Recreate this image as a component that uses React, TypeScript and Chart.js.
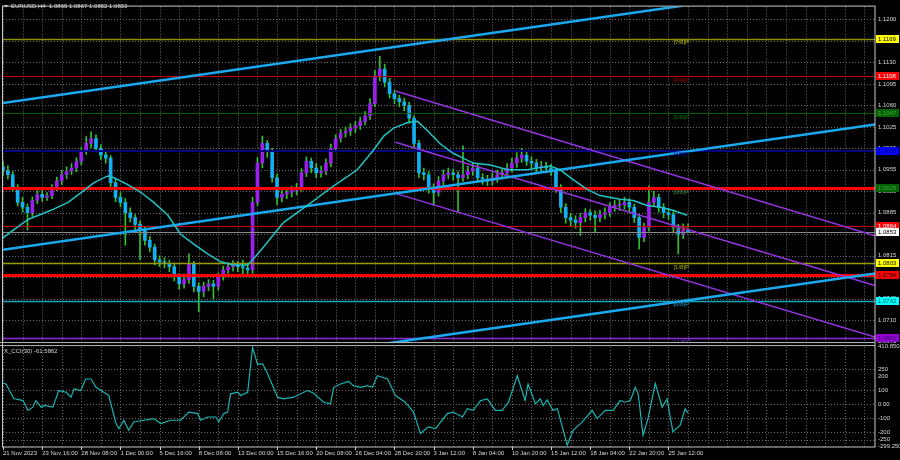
import React, { useEffect, useRef } from "react";
import { Chart, registerables } from "chart.js";

Chart.register(...registerables);

const FONT = '"Liberation Sans", Arial, sans-serif';

const symbolTitle = "EURUSD,H4  1.0865 1.0867 1.0852 1.0853";
const cciTitle = "X_CCI(30) -61.5862";

const dateLabels = [
  "21 Nov 2023", "23 Nov 16:00", "28 Nov 08:00", "1 Dec 00:00", "5 Dec 16:00", "8 Dec 08:00",
  "13 Dec 00:00", "15 Dec 16:00", "20 Dec 08:00", "26 Dec 04:00", "28 Dec 20:00", "3 Jan 12:00",
  "8 Jan 04:00", "10 Jan 20:00", "15 Jan 12:00", "18 Jan 04:00", "22 Jan 20:00", "25 Jan 12:00",
];
const candlesPerLabel = 8;
const candlesPerGridLine = 4;

const priceTicks = [1.12, 1.1165, 1.113, 1.1095, 1.106, 1.1025, 1.099, 1.0955, 1.092, 1.0885, 1.085, 1.0815, 1.078, 1.0745, 1.071, 1.0675];
const cciTicks = [410.8501, 250, 200, 100, 0, -100, -200, -250, -299.2508];
const cciLevels = [250, 100, 0, -100, -200, -250];

const firstOpen = 1.096;
const closes = [
  1.0953, 1.0947, 1.0926, 1.0902, 1.0894, 1.0885, 1.0905, 1.0915, 1.0910, 1.0913,
  1.0926, 1.0937, 1.0947, 1.0953, 1.0958, 1.0969, 1.0985, 1.0998, 1.1006, 1.0990,
  1.0979, 1.0974, 1.0934, 1.0910, 1.0902, 1.0885, 1.0877, 1.0866, 1.0857, 1.0840,
  1.0829, 1.0808, 1.0805, 1.0802, 1.0797, 1.0781, 1.0769, 1.0776, 1.0802, 1.0765,
  1.0757, 1.0765, 1.0769, 1.0765, 1.0781, 1.0792, 1.0797, 1.0800, 1.0797, 1.0795,
  1.0792, 1.0902, 1.0966, 1.0998, 1.0985, 1.0942, 1.0910, 1.0915, 1.0918, 1.0921,
  1.0926, 1.0950, 1.0969, 1.0958, 1.0950, 1.0953, 1.0966, 1.0990, 1.1006, 1.1015,
  1.1018, 1.1023, 1.1027, 1.1034, 1.1043, 1.1063, 1.1108, 1.1119, 1.1098, 1.1079,
  1.1071, 1.1066, 1.1060, 1.1039, 1.0998, 1.0950, 1.0947, 1.0926, 1.0918, 1.0937,
  1.0947, 1.0950, 1.0947, 1.0942, 1.0947, 1.0953, 1.0958, 1.0942, 1.0940, 1.0937,
  1.0942, 1.0947, 1.0950, 1.0958, 1.0966, 1.0974, 1.0979, 1.0969, 1.0966, 1.0958,
  1.0961, 1.0958, 1.0953, 1.0926, 1.0894, 1.0877, 1.0873, 1.0869, 1.0877, 1.0885,
  1.0881, 1.0877, 1.0882, 1.0885, 1.0894, 1.0897, 1.0898, 1.0902, 1.0894, 1.0877,
  1.0845, 1.0861, 1.0902, 1.0910, 1.0894, 1.0885, 1.0882, 1.0861, 1.0850, 1.0857,
  1.0853,
];
const highs = [
  1.0968, 1.0962, 1.0952, 1.0931, 1.0910, 1.0899, 1.0911, 1.0921, 1.0922, 1.0918,
  1.0931, 1.0943, 1.0954, 1.0960, 1.0965, 1.0975, 1.0992, 1.1009, 1.1017, 1.1012,
  1.0996, 1.0986, 1.0978, 1.0940, 1.0918, 1.0908, 1.0893, 1.0882, 1.0872, 1.0862,
  1.0846, 1.0834, 1.0815, 1.0812, 1.0808, 1.0803, 1.0786, 1.0785, 1.0818, 1.0806,
  1.0771, 1.0772, 1.0776, 1.0775, 1.0787, 1.0798, 1.0804, 1.0807, 1.0806, 1.0808,
  1.0803, 1.0910, 1.0975, 1.1010, 1.1003, 1.0990, 1.0948, 1.0922, 1.0925, 1.0928,
  1.0933, 1.0957, 1.0976, 1.0974, 1.0965, 1.0961, 1.0973, 1.0997, 1.1012, 1.1021,
  1.1025, 1.1030, 1.1034, 1.1041, 1.1050, 1.1071, 1.1117, 1.1140, 1.1127, 1.1104,
  1.1085, 1.1077, 1.1072, 1.1065, 1.1043, 1.1003, 1.0958, 1.0952, 1.0932, 1.0944,
  1.0955, 1.0958, 1.0956, 1.0952, 1.0994, 1.0961, 1.0966, 1.0964, 1.0949, 1.0946,
  1.0950, 1.0954, 1.0958, 1.0965, 1.0974, 1.0983, 1.0990, 1.0985, 1.0976, 1.0972,
  1.0969, 1.0967, 1.0964, 1.0958, 1.0931, 1.0900, 1.0884, 1.0880, 1.0884, 1.0892,
  1.0890, 1.0888, 1.0889, 1.0893, 1.0901, 1.0905, 1.0906, 1.0910, 1.0908, 1.0899,
  1.0882, 1.0868, 1.0929, 1.0920, 1.0915, 1.0900, 1.0892, 1.0887, 1.0866, 1.0867,
  1.0867,
];
const lows = [
  1.0946, 1.0940, 1.0920, 1.0896, 1.0886, 1.0857, 1.0879, 1.0900, 1.0904, 1.0905,
  1.0908, 1.0921, 1.0931, 1.0940, 1.0947, 1.0952, 1.0963, 1.0980, 1.0991, 1.0984,
  1.0972, 1.0966, 1.0928, 1.0903, 1.0895, 1.0832, 1.0870, 1.0858, 1.0808, 1.0832,
  1.0821, 1.0800, 1.0797, 1.0795, 1.0789, 1.0774, 1.0760, 1.0762, 1.0770, 1.0756,
  1.0724, 1.0748, 1.0758, 1.0744, 1.0759, 1.0775, 1.0786, 1.0790, 1.0789, 1.0782,
  1.0781, 1.0786, 1.0896, 1.0958, 1.0975, 1.0935, 1.0898, 1.0903, 1.0908, 1.0911,
  1.0914, 1.0920, 1.0944, 1.0950, 1.0942, 1.0943, 1.0947, 1.0960, 1.0984, 1.1000,
  1.1008, 1.1011, 1.1016, 1.1021, 1.1028, 1.1037, 1.1058, 1.1100, 1.1090, 1.1072,
  1.1063, 1.1058, 1.1051, 1.1031, 1.0990, 1.0942, 1.0938, 1.0917, 1.0897, 1.0912,
  1.0930, 1.0940, 1.0938, 1.0885, 1.0936, 1.0940, 1.0946, 1.0934, 1.0931, 1.0929,
  1.0930, 1.0935, 1.0940, 1.0943, 1.0951, 1.0959, 1.0967, 1.0962, 1.0958, 1.0950,
  1.0951, 1.0950, 1.0946, 1.0918, 1.0885, 1.0868, 1.0864, 1.0860, 1.0848, 1.0870,
  1.0873, 1.0853, 1.0870, 1.0875, 1.0879, 1.0887, 1.0889, 1.0891, 1.0886, 1.0869,
  1.0826, 1.0838, 1.0855, 1.0895, 1.0886, 1.0877, 1.0874, 1.0852, 1.0818, 1.0843,
  1.0852,
];

const maIndex = [-0.4, 5.1, 9.8, 13.3, 16.5, 18.6, 21.4, 22.7, 25.5, 28.2, 30.8, 33.7, 36.3, 39.0, 41.8, 44.5, 47.1, 50.0, 51.2, 52.7, 57.3, 62.2, 67.6, 72.4, 75.7, 77.8, 79.8, 82.7, 84.7, 86.7, 89.4, 92.0, 93.5, 96.1, 99.6, 103.1, 107.1, 111.8, 113.9, 116.5, 119.4, 122.0, 126.1, 128.8, 131.6, 134.3, 136.9, 139.8];
const maValues = [1.0842, 1.0874, 1.0889, 1.0902, 1.0921, 1.0934, 1.0945, 1.0942, 1.0931, 1.0918, 1.0902, 1.0881, 1.085, 1.0834, 1.0818, 1.0805, 1.08, 1.08, 1.081, 1.0824, 1.0869, 1.0897, 1.0929, 1.0955, 1.0987, 1.101, 1.1023, 1.1032, 1.1034, 1.1019, 1.0997, 1.0982, 1.0976, 1.0966, 1.0963, 1.0955, 1.0955, 1.0961, 1.0955, 1.0939, 1.0923, 1.0913, 1.0907, 1.0905, 1.0897, 1.0894, 1.0889, 1.0881];

const cciIndex = [-0.4, 0.6, 2.2, 4.1, 5.1, 6.1, 6.7, 7.8, 8.4, 10.2, 11.4, 12.9, 13.9, 14.5, 15.9, 16.9, 18.0, 19.0, 20.6, 21.6, 23.1, 23.7, 24.7, 25.7, 26.7, 28.8, 30.8, 32.2, 34.3, 36.3, 38.0, 39.8, 40.4, 41.8, 43.5, 44.1, 45.1, 45.9, 46.5, 48.0, 48.6, 50.0, 51.0, 52.0, 53.1, 54.1, 56.1, 57.3, 59.4, 62.2, 63.5, 65.5, 66.9, 67.6, 69.0, 70.6, 71.6, 73.1, 74.5, 75.5, 76.5, 78.6, 80.2, 82.2, 83.9, 85.3, 86.9, 88.4, 90.8, 92.0, 93.9, 94.9, 96.1, 97.6, 99.0, 100.6, 102.0, 103.3, 105.1, 106.7, 107.3, 108.8, 109.8, 110.4, 111.2, 112.4, 113.3, 115.3, 116.5, 118.4, 120.4, 121.4, 123.1, 124.7, 126.1, 127.1, 128.2, 129.2, 129.8, 130.8, 131.8, 133.3, 134.7, 135.7, 136.9, 138.4, 139.4, 140.0];
const cciValues = [156, 145, 41, 27, -43, -20, 27, -20, -8, -20, 98, 86, 51, 110, 98, 180, 180, 121, 86, 63, -136, -172, -113, -184, -125, -113, -101, -136, -113, -113, -55, -66, -113, -90, -90, -125, -66, -55, 75, 86, 63, 86, 405, 286, 286, 215, 51, 39, 51, 98, 79, 15, 4, 121, 145, 163, 133, 121, 133, 121, 203, 180, 63, 15, -55, -207, -160, -172, -66, -55, -90, -31, -43, 27, 39, -43, -43, 15, 203, 27, 145, 4, 39, -8, 32, -43, -31, -290, -184, -125, -43, -101, -43, -43, 27, 15, 27, 121, 75, -219, -101, 149, -20, 39, -196, -148, -31, -62];

// trend lines: [candle index, price] end points
const cyanUpperLine = [[0, 1.10639], [178.2, 1.12673]];
const cyanMiddleLine = [[0, 1.08247], [178.2, 1.10289]];
const cyanLowerLine = [[77.6, 1.0671], [178.2, 1.07861]];
const purpleUpperLine = [[80.2, 1.10834], [178.2, 1.08476]];
const purpleMiddleLine = [[80.2, 1.1], [178.2, 1.07666]];
const purpleLowerLine = [[80.2, 1.09166], [178.2, 1.06824]];

const murrayLevels = [1.1169, 1.1108, 1.1047, 1.0986, 1.0925, 1.0864, 1.0803, 1.0742, 1.0681];
const murrayNames = ["[7/8]P", "[6/8]P", "[5/8]P", "[4/8]P", "[3/8]P", "[2/8]P", "[1/8]P", "[0/8]P", "[-1/8]P"];
const srLevels = [1.0925, 1.0784];
const lastPrice = 1.0853;
const murrayNameIndex = 137;

// styles
const murrayLineColor = ["#8e8e00", "#c80000", "#006400", "#000080", "#006400", "#d00000", "#9a9a00", "#12a8b8", "#8a2be2"];
const murrayLineWidth = [1.5, 1, 1, 2, 1, 1, 1.5, 1.5, 1.5];
const murrayBoxColor = ["#ffff00", "#ff0000", "#006400", "#0000ff", "#006400", "#ff0000", "#ffff00", "#00ffff", "#9400d3"];
const murrayBoxText = ["#000000", "#ffffff", "#4f9f4f", "#000080", "#4f9f4f", "#ffffff", "#000000", "#006060", "#3a0070"];
const murrayNameColor = ["#b8b800", "#a00000", "#007000", "#000090", "#3c8c3c", "#a00000", "#b0b000", "#1aa0c8", "#7a28c8"];

export default function App() {
  const ref = useRef<HTMLCanvasElement>(null);

  useEffect(() => {
    document.body.style.margin = "0";
    document.body.style.background = "#000";
    const canvas = ref.current!;
    const opens = [firstOpen, ...closes.slice(0, -1)];
    const idx = closes.map((_, i) => i);
    const bull = "#9a20ec";
    const bear = "#12b0f0";
    const wick = "#2ec02e";

    const lineDs = (label: string, pts: number[][], color: string, width: number, order: number, axis = "y") => ({
      label,
      type: "line" as const,
      data: pts.map(([x, y]) => ({ x, y })),
      borderColor: color,
      borderWidth: width,
      pointRadius: 0,
      fill: false,
      tension: 0,
      yAxisID: axis,
      order,
    });

    const mtPlugin = {
      id: "mt",
      beforeDraw(chart: any) {
        const c = chart.ctx;
        c.save();
        c.fillStyle = "#000";
        c.fillRect(0, 0, chart.width, chart.height);
        c.restore();
      },
      beforeDatasetsDraw(chart: any) {
        const c = chart.ctx;
        const xs = chart.scales.x, ys = chart.scales.y, y2 = chart.scales.y2;
        const area = chart.chartArea;
        c.save();
        c.strokeStyle = "#6e6e6e";
        c.lineWidth = 1;
        c.setLineDash([1, 2]);
        for (let v = 0; v <= xs.max; v += candlesPerGridLine) {
          const px = Math.round(xs.getPixelForValue(v)) + 0.5;
          c.beginPath();
          c.moveTo(px, ys.top); c.lineTo(px, ys.bottom - 2);
          c.moveTo(px, y2.top + 3); c.lineTo(px, y2.bottom);
          c.stroke();
        }
        for (const v of priceTicks) {
          const py = Math.round(ys.getPixelForValue(v)) + 0.5;
          c.beginPath(); c.moveTo(area.left, py); c.lineTo(area.right, py); c.stroke();
        }
        for (const v of cciLevels) {
          const py = Math.round(y2.getPixelForValue(v)) + 0.5;
          c.beginPath(); c.moveTo(area.left, py); c.lineTo(area.right, py); c.stroke();
        }
        c.restore();
      },
      afterDatasetDraw(chart: any, args: any) {
        if (args.index !== 1) return;
        const c = chart.ctx;
        const ys = chart.scales.y;
        const area = chart.chartArea;
        const hline = (v: number, color: string, w: number) => {
          const py = Math.round(ys.getPixelForValue(v)) + (w % 2 ? 0.5 : 0);
          c.strokeStyle = color; c.lineWidth = w;
          c.beginPath(); c.moveTo(area.left, py); c.lineTo(area.right, py); c.stroke();
        };
        c.save();
        c.beginPath(); c.rect(area.left, ys.top, area.right - area.left, ys.bottom - ys.top); c.clip();
        murrayLevels.forEach((v, i) => hline(v, murrayLineColor[i], murrayLineWidth[i]));
        hline(lastPrice, "#8a8a8a", 1);
        srLevels.forEach((v) => hline(v, "#ff0000", 3));
        c.restore();
      },
      afterDatasetsDraw(chart: any) {
        const c = chart.ctx;
        const xs = chart.scales.x, ys = chart.scales.y;
        c.save();
        c.font = `6px ${FONT}`;
        c.textBaseline = "top";
        const nx = xs.getPixelForValue(murrayNameIndex);
        murrayLevels.forEach((v, i) => {
          c.fillStyle = murrayNameColor[i];
          c.fillText(murrayNames[i], nx, ys.getPixelForValue(v) + 1);
        });
        c.restore();
      },
      afterDraw(chart: any) {
        const c = chart.ctx;
        const xs = chart.scales.x, ys = chart.scales.y;
        const area = chart.chartArea;
        c.save();
        // panel separator
        const sy = ys.bottom;
        c.fillStyle = "#000";
        c.fillRect(0, sy - 1, area.right, 3);
        c.strokeStyle = "#b8b8b8";
        c.lineWidth = 1;
        c.beginPath();
        c.moveTo(0, sy - 1.5); c.lineTo(area.right, sy - 1.5);
        c.moveTo(0, sy + 1.5); c.lineTo(area.right, sy + 1.5);
        c.stroke();
        // frame
        c.strokeStyle = "#c8c8c8";
        c.strokeRect(area.left - 0.5, area.top - 0.5, area.right - area.left + 0.5, area.bottom - area.top + 0.5);
        // date tick marks
        c.beginPath();
        dateLabels.forEach((_, k) => {
          const px = Math.round(xs.getPixelForValue(k * candlesPerLabel)) + 0.5;
          c.moveTo(px, area.bottom); c.lineTo(px, area.bottom + 3);
        });
        c.stroke();
        // titles
        c.font = `6px ${FONT}`;
        c.fillStyle = "#d8d8d8";
        c.textBaseline = "middle";
        c.beginPath(); c.moveTo(4, 5); c.lineTo(8, 5); c.lineTo(6, 7.5); c.closePath(); c.fill();
        c.fillText(symbolTitle, 11, 6.5);
        c.fillText(cciTitle, 4, chart.scales.y2.top + 7);
        // price boxes on the axis
        const box = (v: number, bg: string, fg: string) => {
          const py = ys.getPixelForValue(v);
          c.fillStyle = bg;
          c.fillRect(area.right + 1, Math.round(py) - 4, 23, 8);
          c.fillStyle = fg;
          c.fillText(v.toFixed(4), area.right + 3, Math.round(py) + 0.5);
        };
        murrayLevels.forEach((v, i) => box(v, murrayBoxColor[i], murrayBoxText[i]));
        box(srLevels[1], "#ff0000", "#000000");
        box(lastPrice, "#ffffff", "#000000");
        c.restore();
      },
    };

    const tickFont = { size: 6, family: FONT };
    const chart = new Chart(canvas, {
      type: "bar",
      data: {
        datasets: [
          {
            label: "wicks",
            type: "bar",
            data: idx.map((i) => ({ x: i, y: [lows[i], highs[i]] })) as any,
            backgroundColor: wick,
            barThickness: 1,
            grouped: false,
            yAxisID: "y",
            order: 10,
          },
          {
            label: "bodies",
            type: "bar",
            data: idx.map((i) => ({ x: i, y: [opens[i], closes[i]] })) as any,
            backgroundColor: idx.map((i) => (closes[i] >= opens[i] ? bull : bear)),
            barThickness: 3,
            minBarLength: 1,
            grouped: false,
            yAxisID: "y",
            order: 9,
          },
          lineDs("ma", maIndex.map((x, i) => [x, maValues[i]]), "#20c4c4", 1.5, 4),
          lineDs("cyanUpper", cyanUpperLine, "#1aa8ee", 2.5, 5),
          lineDs("cyanMiddle", cyanMiddleLine, "#1aa8ee", 2.5, 5),
          lineDs("cyanLower", cyanLowerLine, "#1aa8ee", 2.5, 5),
          lineDs("purpleUpper", purpleUpperLine, "#9434e0", 1.5, 6),
          lineDs("purpleMiddle", purpleMiddleLine, "#9434e0", 1.5, 6),
          lineDs("purpleLower", purpleLowerLine, "#9434e0", 1.5, 6),
          lineDs("cci", cciIndex.map((x, i) => [x, cciValues[i]]), "#18b4b4", 1.2, 1, "y2"),
        ] as any,
      },
      options: {
        responsive: false,
        animation: false,
        devicePixelRatio: 1,
        events: [],
        layout: { padding: { top: 2, left: 2, right: 0, bottom: 0 } },
        plugins: { legend: { display: false }, tooltip: { enabled: false } },
        scales: {
          x: {
            type: "linear",
            min: 0,
            max: 178.2,
            offset: false,
            grid: { display: false, drawTicks: false },
            border: { display: false },
            afterBuildTicks: (s: any) => {
              s.ticks = dateLabels.map((_, k) => ({ value: k * candlesPerLabel }));
            },
            ticks: {
              autoSkip: false,
              maxRotation: 0,
              minRotation: 0,
              align: "start",
              padding: 3,
              color: "#d8d8d8",
              font: tickFont,
              callback: (_v: any, i: number) => dateLabels[i],
            },
            afterFit: (s: any) => { s.height = 13; },
          },
          y: {
            type: "linear",
            position: "right",
            stack: "panes",
            stackWeight: 341,
            min: 1.0671,
            max: 1.1221,
            grid: { display: false, drawTicks: false },
            border: { display: false },
            afterBuildTicks: (s: any) => { s.ticks = priceTicks.map((v) => ({ value: v })); },
            ticks: {
              autoSkip: false,
              padding: 3,
              color: "#d8d8d8",
              font: tickFont,
              callback: (v: any) => Number(v).toFixed(4),
            },
            afterFit: (s: any) => { s.width = 25; },
          },
          y2: {
            type: "linear",
            position: "right",
            stack: "panes",
            stackWeight: 104,
            min: -303.1,
            max: 428.3,
            grid: { display: false, drawTicks: false },
            border: { display: false },
            afterBuildTicks: (s: any) => { s.ticks = cciTicks.map((v) => ({ value: v })); },
            ticks: {
              autoSkip: false,
              padding: 3,
              color: "#d8d8d8",
              font: tickFont,
              callback: (v: any) => {
                const n = Number(v);
                if (n === 0) return "0.00";
                return Number.isInteger(n) ? String(n) : n.toFixed(4);
              },
            },
            afterFit: (s: any) => { s.width = 25; },
          },
        } as any,
      },
      plugins: [mtPlugin],
    });
    return () => chart.destroy();
  }, []);

  return (
    <div style={{ width: 900, height: 460, background: "#000" }}>
      <canvas ref={ref} width={900} height={460} style={{ display: "block" }} />
    </div>
  );
}
